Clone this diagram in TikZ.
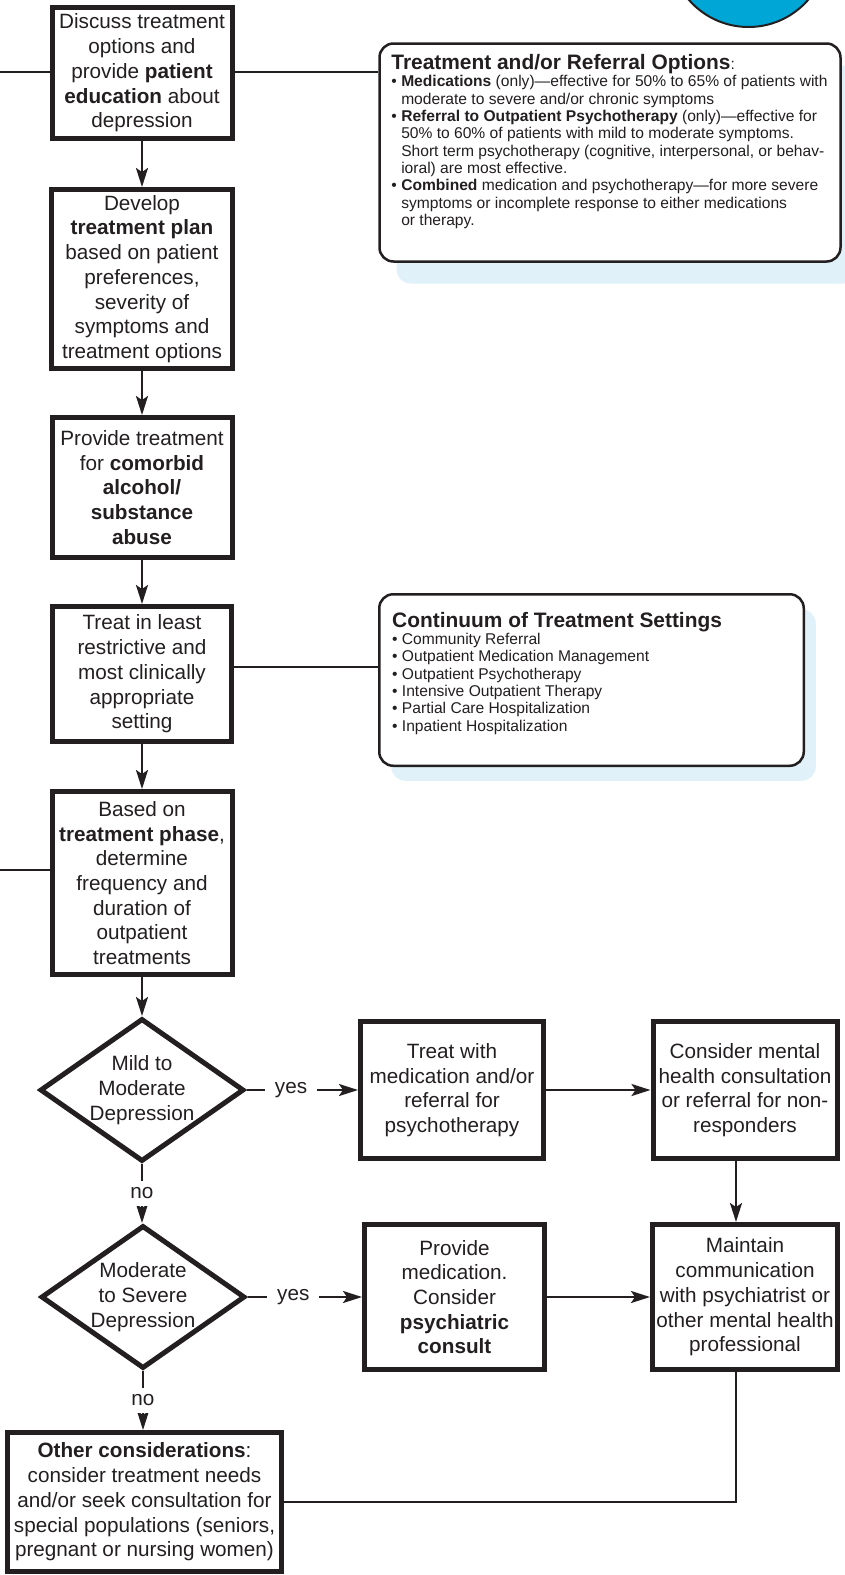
\documentclass[tikz,border=0pt]{standalone}
\usepackage{fontspec}
\setmainfont{Liberation Sans}
\usepackage{tikz}
\usetikzlibrary{calc, positioning, arrows.meta, shapes.geometric, shadows}
\usepackage{xcolor}
\definecolor{ink}{RGB}{35, 31, 32}
\definecolor{cuecyan}{RGB}{0, 166, 214}
\definecolor{haze}{RGB}{224, 241, 249}
\newcommand{\bulletitem}{\textbullet\ }
\newcommand{\bulletcont}{\phantom{\textbullet\ }}
\newcommand{\notetitle}[1]{{\fontsize{20.9}{17.3}\selectfont\bfseries #1}}
\tikzset{
    flowbox/.style={rectangle, draw=ink, line width=5pt, fill=white, text=ink, align=center, inner sep=2pt, font=\fontsize{20.7}{24.7}\selectfont},
    decision/.style={diamond, draw=ink, line width=5pt, fill=white, text=ink, align=center, inner sep=-3pt, aspect=1.41, minimum width=204pt, minimum height=143pt, font=\fontsize{20.7}{24.7}\selectfont},
    infobox/.style={rectangle, rounded corners=14pt, draw=ink, line width=2.5pt, fill=white},
    infonote/.style={anchor=north west, align=left, inner sep=0pt, text=ink, font=\fontsize{15.6}{17.3}\selectfont},
    flowarrow/.style={-{Stealth[length=19pt, width=12pt, inset=4pt]}, line width=2.2pt, draw=ink},
    joinline/.style={line width=2.2pt, draw=ink},
    answer/.style={fill=white, text=ink, inner xsep=10pt, inner ysep=7pt, font=\fontsize{20.7}{24.7}\selectfont}
}
\begin{document}
\begin{tikzpicture}[x=1pt, y=-1pt]
            \useasboundingbox (0,0) rectangle (845,1575);
            \draw[line width=2pt, draw=ink, fill=cuecyan] (748.5,-52) circle[radius=79pt];

            % main column
            \node[flowbox, minimum width=180pt, minimum height=131pt] (disc) at (142,73) {Discuss treatment\\options and\\provide \textbf{patient}\\\textbf{education} about\\depression};
            \node[flowbox, minimum width=181pt, minimum height=179pt] (plan) at (142,279) {Develop\\\textbf{treatment plan}\\based on patient\\preferences,\\severity of\\symptoms and\\treatment options};
            \node[flowbox, minimum width=180pt, minimum height=140pt] (comorb) at (142,487.5) {Provide treatment\\for \textbf{comorbid}\\\textbf{alcohol/}\\\textbf{substance}\\\textbf{abuse}};
            \node[flowbox, minimum width=179pt, minimum height=135pt] (setting) at (142,674) {Treat in least\\restrictive and\\most clinically\\appropriate\\setting};
            \node[flowbox, minimum width=180pt, minimum height=183pt] (phase) at (142,883) {Based on\\\textbf{treatment phase},\\determine\\frequency and\\duration of\\outpatient\\treatments};
            \node[decision] (mild) at (142,1090) {Mild to\\Moderate\\Depression};
            \node[decision] (severe) at (143,1297) {Moderate\\to Severe\\Depression};
            \node[flowbox, minimum width=274pt, minimum height=139pt] (other) at (144.5,1502) {\textbf{Other considerations}:\\consider treatment needs\\and/or seek consultation for\\special populations (seniors,\\pregnant or nursing women)};

            % right side
            \node[flowbox, minimum width=183pt, minimum height=137pt] (treatmed) at (452,1090) {Treat with\\medication and/or\\referral for\\psychotherapy};
            \node[flowbox, minimum width=184pt, minimum height=137pt] (consult) at (745,1090) {Consider mental\\health consultation\\or referral for non-\\responders};
            \node[flowbox, minimum width=180pt, minimum height=145pt] (provmed) at (454.5,1297) {Provide\\medication.\\Consider\\\textbf{psychiatric}\\\textbf{consult}};
            \node[flowbox, minimum width=185pt, minimum height=145pt] (maintain) at (745,1297) {Maintain\\communication\\with psychiatrist or\\other mental health\\professional};

            % notes
            \node[infobox, minimum width=461pt, minimum height=218pt, drop shadow={shadow xshift=17pt, shadow yshift=-22pt, fill=haze, opacity=1}] (optbox) at (610,152.5) {};
            \node[infonote] (optnote) at ([xshift=13pt, yshift=-12pt]optbox.north west) {\notetitle{Treatment and/or Referral Options}:\\
                \bulletitem\textbf{Medications} (only)---effective for 50\% to 65\% of patients with\\
                \bulletcont moderate to severe and/or chronic symptoms\\
                \bulletitem\textbf{Referral to Outpatient Psychotherapy} (only)---effective for\\
                \bulletcont 50\% to 60\% of patients with mild to moderate symptoms.\\
                \bulletcont Short term psychotherapy (cognitive, interpersonal, or behav-\\
                \bulletcont ioral) are most effective.\\
                \bulletitem\textbf{Combined} medication and psychotherapy---for more severe\\
                \bulletcont symptoms or incomplete response to either medications\\
                \bulletcont or therapy.};
            \node[infobox, minimum width=424.5pt, minimum height=171.5pt, drop shadow={shadow xshift=12pt, shadow yshift=-15pt, fill=haze, opacity=1}] (settbox) at (591.5,680) {};
            \node[infonote] (settnote) at ([xshift=14pt, yshift=-19pt]settbox.north west) {\notetitle{Continuum of Treatment Settings}\\
                \bulletitem Community Referral\\
                \bulletitem Outpatient Medication Management\\
                \bulletitem Outpatient Psychotherapy\\
                \bulletitem Intensive Outpatient Therapy\\
                \bulletitem Partial Care Hospitalization\\
                \bulletitem Inpatient Hospitalization};

            \coordinate (leftA) at (0,72);
            \coordinate (leftB) at (0,870);
            \draw[joinline] (disc.west |- leftA) -- (leftA);
            \draw[joinline] (phase.west |- leftB) -- (leftB);
            \draw[joinline] (disc.east |- leftA) -- (optbox.west |- leftA);
            \draw[joinline] ([yshift=7pt]setting.east) -- ([yshift=7pt]setting.east -| settbox.west);

            \draw[flowarrow] (disc) -- (plan);
            \draw[flowarrow] (plan) -- (comorb);
            \draw[flowarrow] (comorb) -- (setting);
            \draw[flowarrow] (setting) -- (phase);
            \draw[flowarrow] (phase) -- (mild);
            \draw[flowarrow] (mild) -- node[answer] {no} (mild |- severe.north);
            \draw[flowarrow] (severe.south) -- node[answer] {no} (severe.south |- other.north);
            \draw[flowarrow] (mild.east) -- node[answer, pos=0.4] {yes} (treatmed.west);
            \draw[flowarrow] (severe.east) -- node[answer, pos=0.4] {yes} (provmed.west);
            \draw[flowarrow] (treatmed) -- (consult);
            \draw[flowarrow] (provmed) -- (maintain);
            \draw[flowarrow] ([xshift=-9pt]consult.south) -- ([xshift=-9pt]maintain.north);
            \draw[joinline] ([xshift=-9pt]maintain.south) |- (other.east);
        \end{tikzpicture}
\end{document}
